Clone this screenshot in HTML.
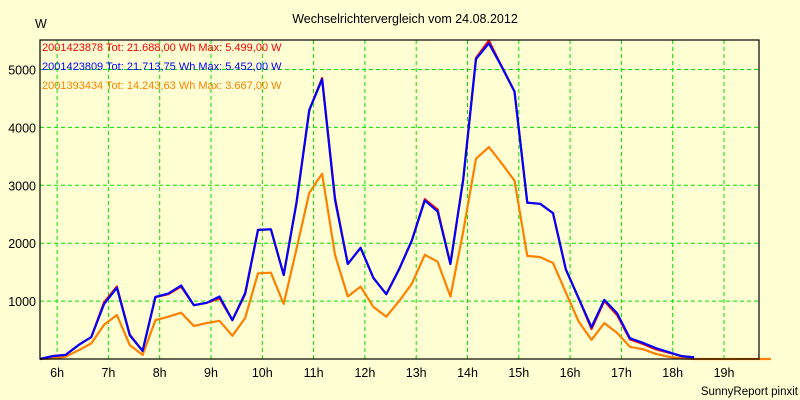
<!DOCTYPE html>
<html><head><meta charset="utf-8"><style>
body{margin:0;background:#ffffd3;}
svg{display:block;font-family:"Liberation Sans",sans-serif;}
</style></head><body>
<svg width="800" height="400">
<rect width="800" height="400" fill="#ffffd3"/>
<text x="405" y="23" font-size="12.5" text-anchor="middle">Wechselrichtervergleich vom 24.08.2012</text>
<text x="35" y="28" font-size="12.5">W</text>
<text x="798" y="395" font-size="11.5" text-anchor="end">SunnyReport pinxit</text>
<g id="grid"></g><g id="axes"></g><g id="series"></g>
<rect x="40" y="40" width="719" height="319" fill="none" stroke="#000" stroke-width="1.2"/>
<g id="legend"></g>
</svg>
<script>
const hourTicks=[6,7,8,9,10,11,12,13,14,15,16,17,18,19];
const yTicks=[1000,2000,3000,4000,5000];
const startMinute=340, stepMinutes=15;
const blueVals=[0,50,70,240,380,950,1230,410,140,1070,1130,1270,930,970,1080,670,1140,2230,2240,1450,2700,4300,4830,2750,1640,1920,1400,1120,1550,2050,2740,2550,1640,3100,5180,5452,5050,4620,2700,2680,2520,1550,1050,550,1020,790,360,280,190,120,50,30];
const redVals=[0,50,70,240,380,980,1250,420,140,1070,1120,1250,930,970,1050,670,1120,2230,2240,1450,2700,4300,4850,2780,1640,1920,1400,1120,1550,2050,2760,2580,1640,3100,5200,5499,5050,4620,2700,2680,2520,1550,1050,520,1000,760,340,260,170,110,50,30];
const orangeVals=[0,10,40,150,270,590,760,240,70,670,730,800,570,620,660,400,710,1480,1490,950,1900,2870,3200,1800,1080,1250,900,730,1000,1300,1800,1680,1080,2200,3460,3660,3380,3080,1780,1760,1660,1150,650,330,620,450,210,170,90,40,10,0,0,0,0,0,0,0];
const legendLabels=["2001423878 Tot: 21.688,00 Wh Max: 5.499,00 W","2001423809 Tot: 21.713,75 Wh Max: 5.452,00 W","2001393434 Tot: 14.243,63 Wh Max: 3.667,00 W"];
const NS="http://www.w3.org/2000/svg";
const xPx=40/15*12.825;
function xMin(m){return 40+(m-startMinute)/stepMinutes*12.825;}
function xIdx(i){return xMin(startMinute+i*stepMinutes);}
function yV(v){return 359-v*0.0579;}
function mk(t,a,p){const e=document.createElementNS(NS,t);for(const k in a)e.setAttribute(k,a[k]);p.appendChild(e);return e;}
const grid=document.getElementById('grid'),axes=document.getElementById('axes');
hourTicks.forEach(h=>{const x=xMin(h*60);
const l=mk('line',{x1:x,x2:x,y1:40,y2:359,stroke:'#00e000','stroke-dasharray':'4,3'},grid);


const t=mk('text',{x:x,y:377,'font-size':'12.5','text-anchor':'middle'},axes);t.textContent=h+'h';

});
yTicks.forEach(v=>{const y=yV(v);
const l=mk('line',{x1:40,x2:759,y1:y,y2:y,stroke:'#00e000','stroke-dasharray':'4,3'},grid);


const t=mk('text',{x:36,y:y+5,'font-size':'12.5','text-anchor':'end'},axes);t.textContent=v;

});
const ser=document.getElementById('series');
[[orangeVals,'#ff8000','series-2001393434'],[redVals,'#ff0000','series-2001423878'],[blueVals,'#0000ff','series-2001423809']].forEach(([vals,c,n])=>{
const pts=vals.map((v,i)=>xIdx(i).toFixed(1)+','+yV(v).toFixed(1)).join(' ');
const p=mk('polyline',{points:pts,fill:'none',stroke:c,'stroke-width':'2.2','stroke-linejoin':'round'},ser);

});
const lg=document.getElementById('legend');const lc=['#ff0000','#0000ff','#ff8000'];
legendLabels.forEach((s,i)=>{const t=mk('text',{x:42,y:51+i*19,'font-size':'11',fill:lc[i]},lg);t.textContent=s;

});
</script>
</body></html>
